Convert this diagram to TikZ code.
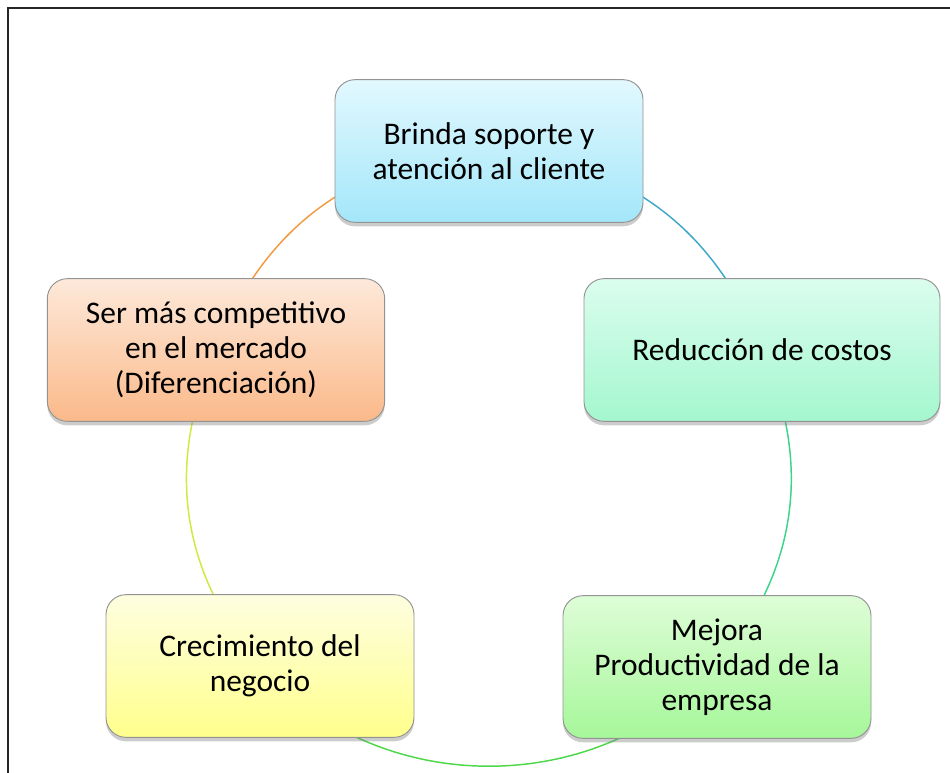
\documentclass[tikz,border=0pt]{standalone}
\usepackage{fontspec}
\setmainfont{Carlito}
\usepackage{tikz}
\usetikzlibrary{shapes,positioning,shadows,backgrounds}

\definecolor{soportetop}{HTML}{E2F8FE}
\definecolor{soportebot}{HTML}{A3E7FA}
\definecolor{costostop}{HTML}{DBFDEE}
\definecolor{costosbot}{HTML}{A4F7CF}
\definecolor{mejoratop}{HTML}{DEFDD7}
\definecolor{mejorabot}{HTML}{A6F79A}
\definecolor{negociotop}{HTML}{FEFEE0}
\definecolor{negociobot}{HTML}{FFFF8C}
\definecolor{mercadotop}{HTML}{FDE9DA}
\definecolor{mercadobot}{HTML}{FBB98A}
\definecolor{linkblue}{HTML}{3FA8C8}
\definecolor{linkteal}{HTML}{3CD48A}
\definecolor{linkgreen}{HTML}{4CD84A}
\definecolor{linkyellow}{HTML}{D0E840}
\definecolor{linkorange}{HTML}{F29A40}

\begin{document}
\begin{tikzpicture}[
    x=0.75pt, y=-0.75pt,
    box/.style={rectangle, rounded corners=15pt, draw=gray!85, line width=0.7pt,
        align=center, minimum width=231pt, minimum height=107pt,
        font=\fontsize{23.6}{26.3}\selectfont,
        drop shadow={shadow xshift=0pt, shadow yshift=-3pt, opacity=0.4}},
    link/.style={line width=1.1pt}
]
    \useasboundingbox (0,0) rectangle (950,773);
    \draw[line width=1.5pt, black!85] (8,773) -- (8,8) -- (950,8);

    \node[box, top color=soportetop, bottom color=soportebot] (soporte) at (489,151)
        {Brinda soporte y\\atención al cliente};
    \node[box, minimum width=267pt, top color=costostop, bottom color=costosbot] (costos) at (762,350)
        {Reducción de costos};
    \node[box, top color=mejoratop, bottom color=mejorabot] (mejora) at (717,667)
        {Mejora\\Productividad de la\\empresa};
    \node[box, top color=negociotop, bottom color=negociobot] (negocio) at (260,666)
        {Crecimiento del\\negocio};
    \node[box, minimum width=253pt, top color=mercadotop, bottom color=mercadobot] (mercado) at (216,350)
        {Ser más competitivo\\en el mercado\\(Diferenciación)};

    \begin{scope}[on background layer]
        \draw[link, linkblue] (soporte.center) to[bend left=33] (costos.center);
        \draw[link, linkteal] (costos.center) to[bend left=32] (mejora.center);
        \draw[link, linkgreen] (mejora.center) to[bend left=48] (negocio.center);
        \draw[link, linkyellow] (negocio.center) to[bend left=32] (mercado.center);
        \draw[link, linkorange] (mercado.center) to[bend left=33] (soporte.center);
    \end{scope}
\end{tikzpicture}
\end{document}
